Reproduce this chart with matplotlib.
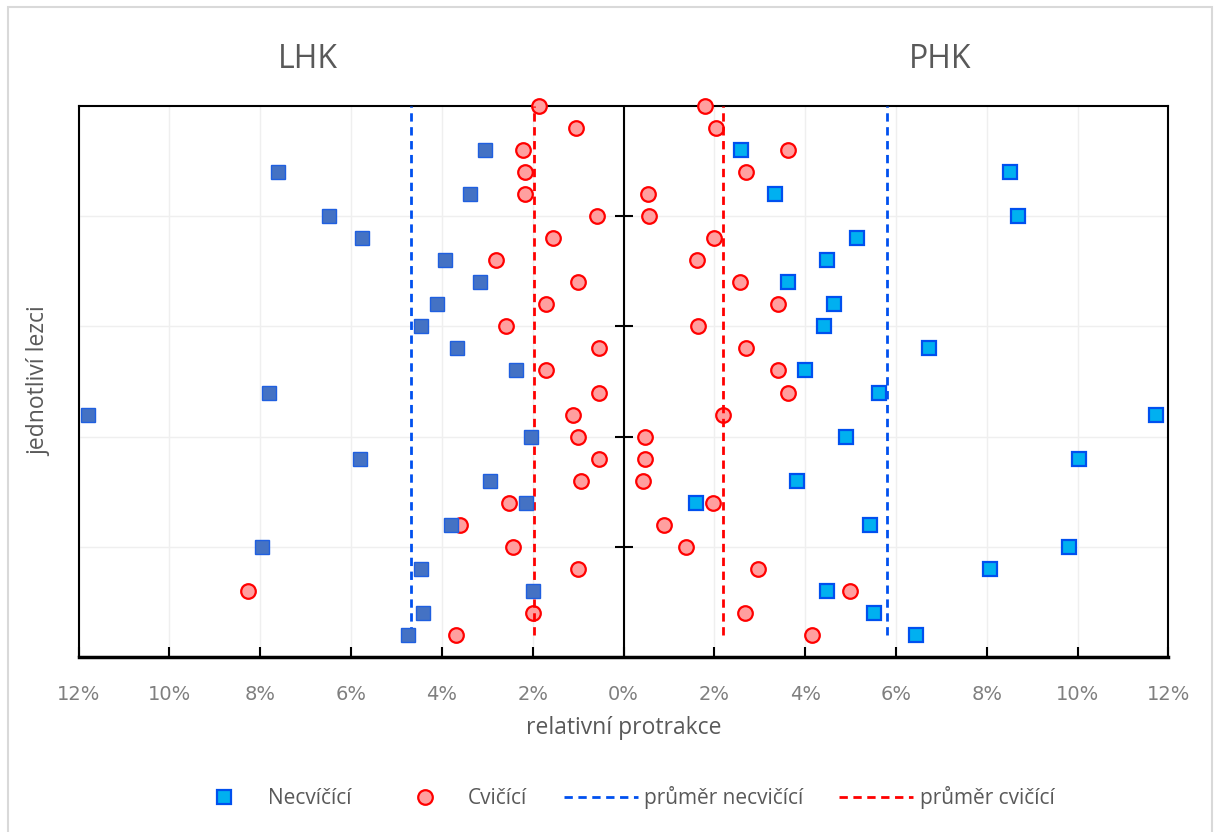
import numpy as np
import matplotlib
matplotlib.use('Agg')
import matplotlib.pyplot as plt
from matplotlib.ticker import FuncFormatter
from matplotlib.lines import Line2D
from matplotlib.patches import Rectangle

# Data: relative protraction in %, rows numbered from bottom (1) to top
# LHK values are stored as magnitudes and drawn on the negative side
lhk_necvicici = [4.74, 4.41, 2.0, 4.45, 7.95, 3.79, 2.14, 2.93, 5.81, 2.03, 11.8, 7.8,
                 2.36, 3.66, 4.45, 4.1, 3.15, 3.92, 5.75, 6.48, 3.39, 7.6, 3.04]
lhk_cvicici = [3.68, 2.0, 8.26, 1.01, 2.44, 3.59, 2.53, 0.93, 0.53, 1.01, 1.12, 0.53,
               1.7, 0.55, 2.58, 1.7, 1.01, 2.8, 1.56, 0.59, 2.16, 2.18, 2.22, 1.04, 1.85]
phk_necvicici = [6.43, 5.51, 4.49, 8.06, 9.82, 5.42, 1.59, 3.83, 10.04, 4.91, 11.72, 5.62,
                 3.99, 6.72, 4.41, 4.63, 3.63, 4.47, 5.15, 8.68, 3.33, 8.52, 2.58]
phk_cvicici = [4.14, 2.67, 4.98, 2.97, 1.37, 0.9, 1.98, 0.44, 0.48, 0.48, 2.2, 3.63,
               3.41, 2.69, 1.63, 3.41, 2.56, 1.61, 2.0, 0.57, 0.53, 2.69, 3.63, 2.03, 1.8]

# means
prumer_lhk_nec = 4.69
prumer_lhk_cvi = 1.98
prumer_phk_nec = 5.81
prumer_phk_cvi = 2.2

x_ticks = [-12, -10, -8, -6, -4, -2, 0, 2, 4, 6, 8, 10, 12]
y_ticks = [5, 10, 15, 20]

text_col = '#595959'
sq_left = '#4472C4'
sq_right = '#00B0F0'
sq_edge = '#0050EF'
circ_face = '#FF9F9F'
circ_edge = '#FF0000'

fig = plt.figure(figsize=(12.14, 8.32), dpi=100)
ax = fig.add_axes([0.0647, 0.2103, 0.8978, 0.6623])

rows_nec = np.arange(1, len(lhk_necvicici) + 1)
rows_cvi = np.arange(1, len(lhk_cvicici) + 1)

# circles (Cvicici)
ax.plot(-np.array(lhk_cvicici), rows_cvi, 'o', ms=10.5, mfc=circ_face, mec=circ_edge,
        mew=1.6, ls='none', zorder=3, clip_on=False)
ax.plot(phk_cvicici, rows_cvi, 'o', ms=10.5, mfc=circ_face, mec=circ_edge,
        mew=1.6, ls='none', zorder=3, clip_on=False)

# mean lines
ends = [1, 25]
ax.plot([-prumer_lhk_nec] * 2, ends, ls=(0, (3, 2)), color=sq_edge, lw=2, zorder=4)
ax.plot([prumer_phk_nec] * 2, ends, ls=(0, (3, 2)), color=sq_edge, lw=2, zorder=4)
ax.plot([-prumer_lhk_cvi] * 2, ends, ls=(0, (3, 2)), color=circ_edge, lw=2, zorder=4)
ax.plot([prumer_phk_cvi] * 2, ends, ls=(0, (3, 2)), color=circ_edge, lw=2, zorder=4)

# squares (Necvicici)
ax.plot(-np.array(lhk_necvicici), rows_nec, 's', ms=10.5, mfc=sq_left, mec='#1F5FE0',
        mew=1.0, ls='none', zorder=5, clip_on=False)
ax.plot(phk_necvicici, rows_nec, 's', ms=10.5, mfc=sq_right, mec=sq_edge,
        mew=1.6, ls='none', zorder=5, clip_on=False)

ax.set_xlim(-12, 12)
ax.set_ylim(0, 25)
ax.set_xticks(x_ticks)
ax.xaxis.set_major_formatter(FuncFormatter(lambda v, p: f'{abs(v):.0f}%'))
ax.set_yticks(y_ticks)
ax.tick_params(axis='y', left=False, labelleft=False)
ax.tick_params(axis='x', direction='in', length=7, width=1.5, pad=20,
               labelsize=14, labelcolor='#7F7F7F',
               labelfontfamily='Liberation Sans Narrow')
ax.grid(True, color='#EFEFEF', lw=1.0, zorder=0)
ax.set_axisbelow(True)
for side in ['left', 'right', 'top']:
    ax.spines[side].set_color('black')
    ax.spines[side].set_linewidth(1.5)
ax.spines['bottom'].set_linewidth(2.5)

# centre axis with tick marks crossing it
ax.axvline(0, color='black', lw=1.5, zorder=2)
ax.plot(np.zeros(len(y_ticks)), y_ticks, ls='none', marker='_', ms=13,
        mew=1.5, color='black', zorder=2)

ax.set_xlabel('relativní protrakce', fontsize=16.5, color=text_col,
              family='Open Sans', labelpad=9)
ax.set_ylabel('jednotliví lezci', fontsize=16.5, color=text_col,
              family='Open Sans', labelpad=20)

fig.text(0.2537, 0.928, 'LHK', fontsize=23, color=text_col, family='Open Sans',
         ha='center', va='center')
fig.text(0.774, 0.928, 'PHK', fontsize=23, color=text_col, family='Open Sans',
         ha='center', va='center')

handles = [
    Line2D([], [], marker='s', ls='none', ms=10.5, mfc=sq_right, mec=sq_edge, mew=1.6),
    Line2D([], [], marker='o', ls='none', ms=10.5, mfc=circ_face, mec=circ_edge, mew=1.6),
    Line2D([], [], ls=(0, (3, 2)), color=sq_edge, lw=2),
    Line2D([], [], ls=(0, (3, 2)), color=circ_edge, lw=2),
]
labels = ['Necvíčící', 'Cvičící', 'průměr necvičící', 'průměr cvičící']
leg = fig.legend(handles, labels, loc='center', bbox_to_anchor=(0.5115, 0.041), ncol=4,
                 frameon=False, handlelength=3.55, handletextpad=0.3, columnspacing=1.75,
                 prop={'family': 'Open Sans', 'size': 15})
for t in leg.get_texts():
    t.set_color(text_col)

# light chart-area frame
fig.patches.append(Rectangle((8 / 1214, -0.05), 1204 / 1214, 1 - 7 / 832 + 0.05,
                             transform=fig.transFigure, fill=False,
                             edgecolor='#D9D9D9', lw=1.5, zorder=-1))

fig.savefig('out.png', dpi=100)
